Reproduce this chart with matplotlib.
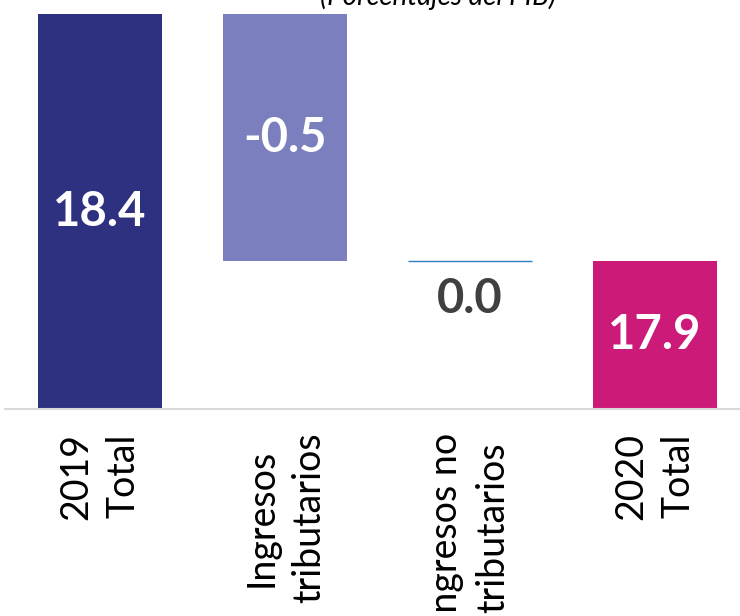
import numpy as np
import matplotlib.pyplot as plt

# Data
categories = ["2019\nTotal", "Ingresos\ntributarios", "Ingresos no\ntributarios", "2020\nTotal"]
values = [18.4, -0.5, 0.0, 17.9]
is_total = [True, False, False, True]
colors = ["#2E3080", "#7C7FBD", "#2E7EBB", "#CC1A78"]
label_colors = ["white", "white", "#404040", "white"]

ymin, ymax = 17.6, 18.4

fig = plt.figure(figsize=(7.4, 6.16), dpi=100)
ax = fig.add_axes([0.0068, 0.336, 0.993, 0.641])

x = np.arange(len(categories))
running = 0.0
for i, (v, tot) in enumerate(zip(values, is_total)):
    if tot:
        bottom, height = 0.0, v
        running = v
        label_y = (ymin + v) / 2
    else:
        bottom = running + min(v, 0)
        height = abs(v)
        running += v
        label_y = bottom + height / 2 if height > 0 else running - 0.077
    if height == 0:
        ax.bar(x[i], 0, bottom=bottom, width=0.67, color=colors[i],
               edgecolor=colors[i], linewidth=1)
    else:
        ax.bar(x[i], height, bottom=bottom, width=0.67, color=colors[i])
    ax.text(x[i], label_y, f"{v:.1f}", ha="center", va="center",
            color=label_colors[i], fontsize=34, fontweight="bold",
            family="Lato")

ax.set_ylim(ymin, ymax)
ax.set_xlim(-0.514, 3.46)
ax.set_yticks([])
ax.set_xticks(x)
ax.set_xticklabels(categories, rotation=90, ha="right", va="center",
                   rotation_mode="anchor", multialignment="center",
                   fontsize=27, family="Lato", linespacing=1.4)
ax.tick_params(axis="x", length=0, pad=17)
for s in ["top", "left", "right"]:
    ax.spines[s].set_visible(False)
ax.spines["bottom"].set_color("#D9D9D9")
ax.spines["bottom"].set_linewidth(1.5)

fig.text(438 / 740, 1 - 5 / 616, "(Porcentajes del PIB)", ha="center",
         va="baseline", fontsize=20, style="italic", family="Lato")

fig.savefig("out.png", dpi=100)
